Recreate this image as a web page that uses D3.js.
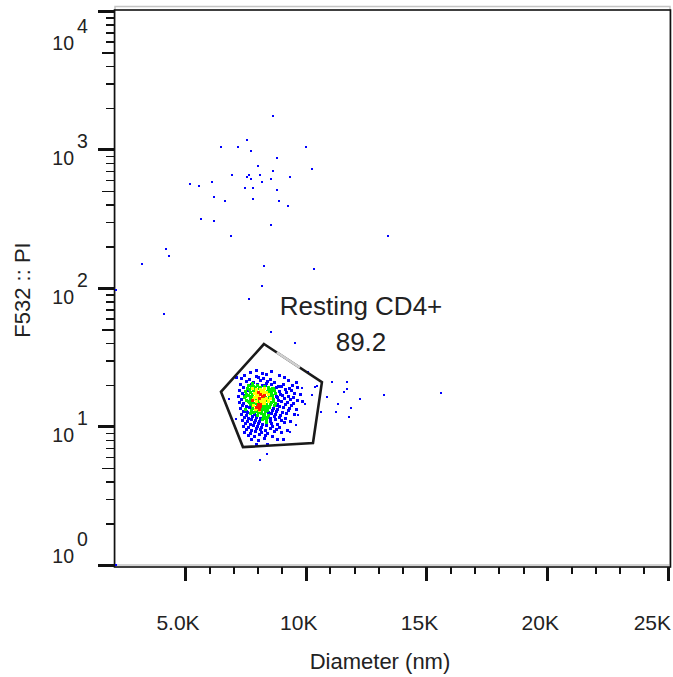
<!DOCTYPE html>
<html><head><meta charset="utf-8">
<script src="https://cdn.jsdelivr.net/npm/d3@7"></script>
<style>html,body{margin:0;padding:0;background:#fff;} svg{display:block;font-family:"Liberation Sans",Arial,sans-serif;}</style>
</head><body><svg id="c" width="673" height="677"></svg>
<script>
// ---------- data ----------
const xTickValues = [5000, 10000, 15000, 20000, 25000];
const xTickLabels = ["5.0K", "10K", "15K", "20K", "25K"];
const xMinorValues = [6000,7000,8000,9000,11000,12000,13000,14000,16000,17000,18000,19000,21000,22000,23000,24000];
const yDecades = [1, 10, 100, 1000, 10000];
const yExponents = ["0", "1", "2", "3", "4"];
const xTitle = "Diameter (nm)";
const yTitle = "F532 :: PI";
const gateName = "Resting CD4+";
const gatePercent = "89.2";
const gateVertices = [[8270,39.4],[10670,20.9],[10300,7.6],[7400,7.1],[6490,17.8]];

// sparse events (diameter nm, PI)
const sparseEvents = [
[8643,1746],[7567,1172],[6490,1042],[7194,1042],[10009,1042],[7732,975],[8809,868],[10258,723],
[8022,760],[8643,700],[6946,655],[7650,655],[7567,633],[7732,612],[8105,655],[8560,612],[9347,633],
[6118,583],[8188,583],[5207,563],[5580,545],[7484,527],[7815,527],[8809,510],[6201,454],[7815,439],
[6656,425],[8892,425],[9264,391],[5662,315],[6201,305],[8560,285],[6904,237],[13404,237],[4213,191],
[4338,170],[3220,149],[8271,144],[10341,137],[8188,103],[7650,83.3],[4130,64.9],[2143,96.8],
[8560,48.1],[9554,40.1],[11086,20.9],[11707,20.9],[11707,18.7],[11582,17.8],[10465,19.6],[10879,16.3],
[12245,15.8],[13239,16.9],[15598,17.5],[11334,14.5],[11872,13.6],[10631,12.7],[11251,12.7],[11790,11.7],
[10092,24.7],[6822,15.8],[7111,11.3],[10258,16.9],[10382,19.3],[9844,19.0],[9968,14.5],[9678,12.1],
[9596,10.3],[9347,9.1],[8110,5.7],[8400,6.3],[2143,1.0]
];

// main population inside the gate
const clusterEvents = [
[7690,24.8],[8190,24.4],[8560,25.2],[7940,25.6],
[7440,23.5],[7940,23.1],[8350,24.0],[8890,23.5],[7110,22.7],
[7320,22.4],[7650,22.0],[8020,22.7],[8230,22.4],[8520,22.0],[9100,22.7],
[7530,21.3],[7820,21.0],[8100,21.7],[8400,21.3],[8690,21.0],[9260,21.7],[9600,21.0],
[7280,20.3],[7610,19.9],[7770,20.6],[7980,20.3],[8190,19.9],[8350,20.6],[8560,20.3],[8850,19.6],[9060,20.3],[9430,19.9],
[7400,19.3],[7570,19.0],[7730,19.6],[7900,19.3],[8060,19.0],[8270,19.6],[8440,19.3],[8640,19.0],[8770,19.3],[8970,19.6],[9310,19.0],[9640,19.3],
[7240,18.3],[7480,18.0],[7650,18.6],[7820,18.3],[7940,18.0],[8100,18.6],[8230,18.3],[8400,18.0],[8520,18.6],[8690,18.3],[8890,18.0],[9140,18.6],[9390,18.3],
[7360,17.5],[7530,17.2],[7690,17.8],[7860,17.5],[7980,17.2],[8150,17.8],[8270,17.5],[8440,17.2],[8560,17.8],[8730,17.5],[8930,17.2],[9180,17.8],[9510,17.5],[9760,17.2],
[7190,16.6],[7440,16.4],[7610,16.9],[7730,16.6],[7900,16.4],[8020,16.9],[8190,16.6],[8310,16.4],[8480,16.9],[8600,16.6],[8810,16.4],[9020,16.9],[9260,16.6],[9470,16.4],
[7320,15.8],[7530,15.5],[7690,16.1],[7820,15.8],[7940,15.5],[8060,16.1],[8230,15.8],[8350,15.5],[8520,16.1],[8640,15.8],[8850,15.5],[9100,16.1],[9350,15.8],[9640,15.5],
[7240,15.0],[7400,14.8],[7610,15.3],[7770,15.0],[7900,14.8],[8020,15.3],[8150,15.0],[8270,14.8],[8440,15.3],[8560,15.0],[8730,14.8],[8970,15.3],[9220,15.0],[9470,14.8],[9840,15.3],
[7360,14.3],[7530,14.1],[7690,14.5],[7820,14.3],[7980,14.1],[8100,14.5],[8230,14.3],[8400,14.1],[8520,14.5],[8690,14.3],[8890,14.1],[9140,14.5],[9390,14.3],
[7280,13.6],[7480,13.4],[7650,13.8],[7770,13.6],[7940,13.4],[8060,13.8],[8190,13.6],[8350,13.4],[8480,13.8],[8640,13.6],[8810,13.4],[9060,13.8],[9310,13.6],[9600,13.4],
[7400,12.9],[7570,12.7],[7730,13.2],[7900,12.9],[8020,12.7],[8150,13.2],[8310,12.9],[8440,12.7],[8600,13.2],[8770,12.9],[9020,12.7],[9260,13.2],
[7320,12.3],[7530,12.1],[7690,12.5],[7860,12.3],[7980,12.1],[8150,12.5],[8270,12.3],[8440,12.1],[8560,12.5],[8730,12.3],[8930,12.1],[9180,12.5],[9510,12.3],
[7440,11.7],[7610,11.5],[7770,11.9],[7940,11.7],[8100,11.5],[8230,11.9],[8400,11.7],[8520,11.5],[8690,11.9],[8890,11.7],[9140,11.5],
[7360,11.1],[7570,10.9],[7730,11.3],[7900,11.1],[8060,10.9],[8190,11.3],[8350,11.1],[8520,10.9],[8730,11.3],[8970,11.1],[9350,10.9],
[7480,10.6],[7690,10.4],[7860,10.8],[8020,10.6],[8190,10.4],[8350,10.8],[8560,10.6],[8810,10.4],[9100,10.8],
[7400,10.1],[7610,9.9],[7820,10.3],[7980,10.1],[8150,9.9],[8350,10.3],[8600,10.1],[8890,9.9],
[7530,9.6],[7730,9.4],[7940,9.8],[8100,9.6],[8310,9.4],[8520,9.8],[8770,9.6],[9220,9.4],
[7440,9.1],[7690,9.0],[7900,9.3],[8150,9.1],[8400,9.0],[8690,9.3],[8970,9.1],
[7610,8.7],[7860,8.5],[8060,8.8],[8310,8.7],[8600,8.5],
[7730,8.1],[8020,8.0],[8270,8.3],[8810,8.1],[9060,8.1],
[7940,7.5],[8400,7.5]
];

// dense core of the population
const coreEvents = [
[7770,19.0],[7940,18.6],[8100,19.3],[8270,19.0],[8440,18.6],[7860,18.0],[8020,17.8],[8190,18.0],[8350,17.8],[8520,18.0],
[7770,17.2],[7940,16.9],[8100,17.2],[8270,16.9],[8440,17.2],[8600,16.9],[7860,16.4],[8020,16.1],[8190,16.4],[8350,16.1],
[8520,16.4],[7770,15.5],[7940,15.3],[8100,15.5],[8270,15.3],[8440,15.5],[7860,14.8],[8020,14.5],[8190,14.8],[8350,14.5],
[8520,14.8],[7770,14.1],[7940,13.8],[8100,14.1],[8270,13.8],[8440,14.1],[7900,13.4],[8060,13.2],[8230,13.4],[8400,13.2],
[7690,16.4],[7650,15.0],[7610,18.3],[8640,15.3],[7980,19.9],[8310,19.9],[8150,12.5],[7820,12.7],[7480,16.9],[8770,16.6]
];

// local clumps of coincident events
const clumpEvents = [
[7774,19.9],[7815,19.6],[7732,20.3],
[8188,17.8],[8229,18.0],[8146,17.5],[8188,18.3],
[7691,15.5],[7650,15.3],[7732,15.8],
[8436,16.1],[8478,16.4],[8395,15.8],
[8022,13.6],[7981,13.8],[8064,13.4],[8022,14.1],
[7567,12.7],[7525,12.9],
[8312,11.5],[8353,11.7],
[7898,17.8],[7939,17.5],[7857,18.0],
[8602,19.0],[8643,18.6],
[7443,16.9],[7484,16.6],
[8767,14.3],[8809,14.5],
[8105,15.5],[8146,15.3],[8064,15.8]
];

// ---------- chart ----------
const svg = d3.select("#c");
const x = d3.scaleLinear().domain([2102, 25083]).range([115, 670]);
const y = d3.scaleLog().domain([1, 10166]).range([565, 10]);
const ink = "#222";

// frame
svg.append("rect").attr("x", 115).attr("y", 6.5).attr("width", 555).attr("height", 558.5)
  .attr("fill", "none").attr("stroke", "#c4c4c4").attr("stroke-width", 1.5);
svg.append("rect").attr("x", 114.5).attr("y", 10).attr("width", 556).attr("height", 557)
  .attr("fill", "none").attr("stroke", "#111").attr("stroke-width", 1.6);

// y axis ticks
const yMinor = [], yMid = [];
yDecades.slice(0, -1).forEach(d => { for (let k = 2; k <= 9; k++) (k === 5 ? yMid : yMinor).push(d * k); });
function tickAxis(g, width) {
  g.select(".domain").remove();
  g.selectAll(".tick line").attr("stroke", "#111").attr("stroke-width", width).attr("shape-rendering", "crispEdges");
  g.selectAll(".tick text").remove();
}
svg.append("g").attr("transform", "translate(115,0)")
  .call(d3.axisLeft(y).tickValues(yDecades).tickSize(17).tickFormat(""))
  .call(g => tickAxis(g, 3));
svg.append("g").attr("transform", "translate(115,0)")
  .call(d3.axisLeft(y).tickValues(yMid).tickSize(13).tickFormat(""))
  .call(g => tickAxis(g, 1.5));
svg.append("g").attr("transform", "translate(115,0)")
  .call(d3.axisLeft(y).tickValues(yMinor).tickSize(9).tickFormat(""))
  .call(g => tickAxis(g, 1.5));

// x axis ticks
svg.append("g").attr("transform", "translate(0,567)")
  .call(d3.axisBottom(x).tickValues(xTickValues).tickSize(14).tickFormat(""))
  .call(g => tickAxis(g, 3));
svg.append("g").attr("transform", "translate(0,567)")
  .call(d3.axisBottom(x).tickValues(xMinorValues).tickSize(7).tickFormat(""))
  .call(g => tickAxis(g, 2));

// y tick labels 10^n
yDecades.forEach((d, i) => {
  const base = Math.max(50, Math.min(563, y(d) + 16));
  svg.append("text").attr("x", 74).attr("y", base).attr("text-anchor", "end")
    .attr("font-size", 19.5).attr("fill", ink).text("10");
  svg.append("text").attr("x", 77).attr("y", base - 17)
    .attr("font-size", 19.5).attr("fill", ink).text(yExponents[i]);
});

// x tick labels
xTickValues.forEach((d, i) => {
  const last = i === xTickValues.length - 1;
  svg.append("text").attr("x", last ? 671 : x(d) - 7).attr("y", 630)
    .attr("text-anchor", last ? "end" : "middle")
    .attr("font-size", 21).attr("fill", ink).text(xTickLabels[i]);
});

// axis titles
svg.append("text").attr("x", 380).attr("y", 669).attr("text-anchor", "middle")
  .attr("font-size", 22).attr("fill", ink).text(xTitle);
svg.append("text").attr("transform", "translate(30,290) rotate(-90)").attr("text-anchor", "middle")
  .attr("font-size", 22).attr("fill", ink).text(yTitle);

// events with density colouring
const sparseSet = sparseEvents.map(d => ({ px: x(d[0]), py: y(d[1]), s: 2 }));
const gateSet = clusterEvents.concat(coreEvents, clumpEvents).map(d => ({ px: x(d[0]), py: y(d[1]), s: 3 }));
const events = sparseSet.concat(gateSet);
events.forEach(e => {
  e.n = events.filter(o => Math.hypot(o.px - e.px, o.py - e.py) <= 5).length;
});
const counts = events.map(e => e.n).sort(d3.ascending);
const tRed = d3.quantile(counts, 0.975), tYel = d3.quantile(counts, 0.88), tGrn = d3.quantile(counts, 0.6);
const colOf = n => n >= tRed ? "#ff1a00" : n >= tYel ? "#ffff00" : n >= tGrn ? "#00ee00" : "#0000ff";
events.forEach(e => e.c = colOf(e.n));
const rank = { "#0000ff": 0, "#00ee00": 1, "#ffff00": 2, "#ff1a00": 3 };
events.sort((a, b) => rank[a.c] - rank[b.c]);
svg.append("g").selectAll("rect").data(events).join("rect")
  .attr("x", d => Math.round(d.px) - 1).attr("y", d => Math.round(d.py) - 1)
  .attr("width", d => d.s).attr("height", d => d.s).attr("fill", d => d.c)
  .attr("shape-rendering", "crispEdges");

// gate
const gatePx = gateVertices.map(d => [x(d[0]), y(d[1])]);
svg.append("path").attr("d", d3.line().curve(d3.curveLinearClosed)(gatePx))
  .attr("fill", "none").attr("stroke", "#1a1a1a").attr("stroke-width", 2.6)
  .attr("stroke-linejoin", "miter");
const lerp = (a, b, t) => [a[0] + (b[0] - a[0]) * t, a[1] + (b[1] - a[1]) * t];
const s0 = lerp(gatePx[0], gatePx[1], 0.22), s1 = lerp(gatePx[0], gatePx[1], 0.62);
svg.append("line").attr("x1", s0[0]).attr("y1", s0[1]).attr("x2", s1[0]).attr("y2", s1[1])
  .attr("stroke", "#cfcfcf").attr("stroke-width", 2.6);

// gate labels
svg.append("text").attr("x", 361).attr("y", 315).attr("text-anchor", "middle")
  .attr("font-size", 26).attr("fill", ink).text(gateName);
svg.append("text").attr("x", 361).attr("y", 351).attr("text-anchor", "middle")
  .attr("font-size", 26).attr("fill", ink).text(gatePercent);
</script>
</body></html>
